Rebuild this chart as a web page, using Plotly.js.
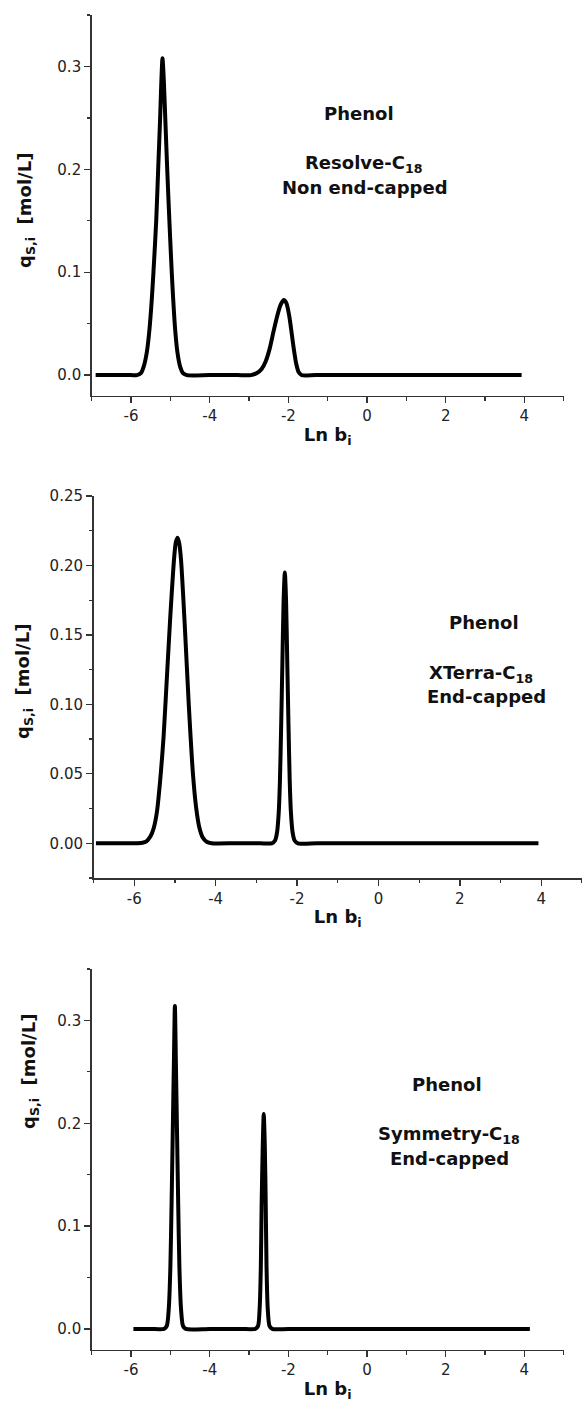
<!DOCTYPE html>
<html>
<head>
<meta charset="utf-8">
<script src="https://cdn.plot.ly/plotly-3.0.1.min.js"></script>
<style>html,body{margin:0;padding:0;background:#fff;}#chart{width:582px;height:1403px;}</style>
</head>
<body>
<div id="chart"></div>
<script>
// Panel 1: Resolve-C18, non end-capped
var resolveX = [-6.90, -6.0, -5.85, -5.75, -5.68, -5.60, -5.53, -5.47, -5.43, -5.36, -5.31, -5.26, -5.23, -5.20, -5.165, -5.13, -5.08, -5.025, -4.965, -4.93, -4.88, -4.82, -4.75, -4.68, -4.58, -4.0, -3.3, -2.95, -2.80, -2.68, -2.58, -2.48, -2.38, -2.28, -2.20, -2.12, -2.05, -1.98, -1.92, -1.86, -1.80, -1.74, -1.66, -1.3, 0, 2, 3.93];
var resolveY = [0, 0, 0, 0.002, 0.008, 0.022, 0.045, 0.075, 0.10, 0.15, 0.20, 0.25, 0.285, 0.308, 0.285, 0.25, 0.20, 0.15, 0.10, 0.075, 0.045, 0.022, 0.008, 0.002, 0, 0, 0, 0, 0.002, 0.006, 0.013, 0.025, 0.042, 0.058, 0.068, 0.073, 0.070, 0.058, 0.042, 0.025, 0.011, 0.003, 0, 0, 0, 0, 0];

// Panel 2: XTerra-C18, end-capped
var xterraX = [-6.94, -6.3, -6.0, -5.80, -5.70, -5.60, -5.52, -5.44, -5.345, -5.28, -5.22, -5.12, -5.015, -4.975, -4.935, -4.895, -4.85, -4.76, -4.66, -4.557, -4.48, -4.40, -4.32, -4.22, -4.10, -3.5, -2.9, -2.62, -2.54, -2.49, -2.45, -2.42, -2.39, -2.36, -2.33, -2.30, -2.27, -2.24, -2.21, -2.18, -2.15, -2.11, -2.06, -1.98, -1.5, 0, 2, 3.93];
var xterraY = [0, 0, 0, 0.0004, 0.0014, 0.005, 0.011, 0.023, 0.051, 0.076, 0.107, 0.16, 0.207, 0.217, 0.220, 0.216, 0.204, 0.158, 0.10, 0.05, 0.026, 0.0114, 0.0044, 0.0011, 0, 0, 0, 0, 0.002, 0.008, 0.022, 0.045, 0.085, 0.13, 0.175, 0.195, 0.175, 0.13, 0.085, 0.045, 0.022, 0.008, 0.002, 0, 0, 0, 0, 0];

// Panel 3: Symmetry-C18, end-capped
var symmetryX = [-5.94, -5.5, -5.16, -5.09, -5.04, -5.00, -4.97, -4.94, -4.91, -4.885, -4.86, -4.83, -4.80, -4.77, -4.73, -4.68, -4.61, -4.0, -3.2, -2.84, -2.77, -2.73, -2.70, -2.68, -2.65, -2.626, -2.60, -2.575, -2.555, -2.525, -2.48, -2.41, -2.0, 0, 2, 4.14];
var symmetryY = [0, 0, 0, 0.003, 0.02, 0.06, 0.12, 0.19, 0.26, 0.314, 0.26, 0.19, 0.12, 0.06, 0.02, 0.003, 0, 0, 0, 0, 0.003, 0.02, 0.06, 0.12, 0.18, 0.209, 0.18, 0.12, 0.06, 0.02, 0.003, 0, 0, 0, 0, 0];

var xTickVals = [-6, -4, -2, 0, 2, 4];
var xTickText = ["-6", "-4", "-2", "0", "2", "4"];
var panelLabels = [
  ["Phenol", "Resolve-C<sub>18</sub>", "Non end-capped"],
  ["Phenol", "XTerra-C<sub>18</sub>", "End-capped"],
  ["Phenol", "Symmetry-C<sub>18</sub>", "End-capped"]
];
var xTitle = "Ln b<sub>i</sub>";
var yTitle = "q<sub>S,i</sub>\u00a0\u00a0[mol/L]";

var W = 582, H = 1403;
function px(x) { return x / W; }
function py(y) { return 1 - y / H; }

var FONT = "DejaVu Sans, Liberation Sans, Arial, sans-serif";
var lineStyle = {color: "#000", width: 4, shape: "spline", smoothing: 0.7};

var traces = [
  {x: resolveX, y: resolveY, xaxis: "x", yaxis: "y", mode: "lines", line: lineStyle, hoverinfo: "skip"},
  {x: xterraX, y: xterraY, xaxis: "x2", yaxis: "y2", mode: "lines", line: lineStyle, hoverinfo: "skip"},
  {x: symmetryX, y: symmetryY, xaxis: "x3", yaxis: "y3", mode: "lines", line: lineStyle, hoverinfo: "skip"}
];

function xAxis(domain, anchor) {
  return {
    domain: domain, anchor: anchor, range: [-7, 5],
    tickmode: "array", tickvals: xTickVals, ticktext: xTickText,
    ticks: "outside", ticklen: 6, tickwidth: 1.3, tickcolor: "#333",
    minor: {dtick: 1, tick0: 0, ticks: "outside", ticklen: 3.5, tickwidth: 1.3, tickcolor: "#333", showgrid: false},
    showline: true, linecolor: "#333", linewidth: 1.5,
    showgrid: false, zeroline: false,
    tickfont: {family: FONT, size: 15, color: "#222"},
    title: {text: xTitle, font: {family: FONT, size: 18, color: "#111", weight: "bold"}, standoff: 4}
  };
}
function yAxis(domain, anchor, range, dtick, minorDtick, fmt) {
  return {
    domain: domain, anchor: anchor, range: range,
    tick0: 0, dtick: dtick, tickformat: fmt,
    ticks: "outside", ticklen: 6, tickwidth: 1.3, tickcolor: "#333",
    minor: {dtick: minorDtick, tick0: 0, ticks: "outside", ticklen: 3.5, tickwidth: 1.3, tickcolor: "#333", showgrid: false},
    showline: true, linecolor: "#333", linewidth: 1.5,
    showgrid: false, zeroline: false,
    tickfont: {family: FONT, size: 15, color: "#222"}
  };
}

var annFont = {family: FONT, size: 18, color: "#111", weight: "bold"};
function ann(text, x, y, extra) {
  var a = {text: text, xref: "paper", yref: "paper", x: px(x), y: py(y), xanchor: "center", yanchor: "middle", showarrow: false, font: annFont};
  if (extra) for (var k in extra) a[k] = extra[k];
  return a;
}

var annotations = [
  ann(panelLabels[0][0], 359, 114),
  ann(panelLabels[0][1], 363, 164),
  ann(panelLabels[0][2], 365, 188),
  ann(panelLabels[1][0], 484, 622),
  ann(panelLabels[1][1], 481, 674),
  ann(panelLabels[1][2], 486, 697),
  ann(panelLabels[2][0], 447, 1084),
  ann(panelLabels[2][1], 449, 1135),
  ann(panelLabels[2][2], 449, 1158),
  ann(yTitle, 26, 211, {textangle: -90}),
  ann(yTitle, 24, 682, {textangle: -90}),
  ann(yTitle, 30, 1072, {textangle: -90})
];

var layout = {
  width: W, height: H,
  margin: {l: 0, r: 0, t: 0, b: 0},
  paper_bgcolor: "#fff", plot_bgcolor: "#fff",
  showlegend: false,
  font: {family: FONT},
  xaxis: xAxis([px(91.7), px(563.7)], "y"),
  yaxis: yAxis([py(395.7), py(15)], "x", [-0.02, 0.35], 0.1, 0.05, ".1f"),
  xaxis2: xAxis([px(93.5), 1], "y2"),
  yaxis2: yAxis([py(878), py(496)], "x2", [-0.025, 0.25], 0.05, 0.025, ".2f"),
  xaxis3: xAxis([px(91.7), px(563.7)], "y3"),
  yaxis3: yAxis([py(1349.5), py(969)], "x3", [-0.02, 0.35], 0.1, 0.05, ".1f"),
  annotations: annotations
};

Plotly.newPlot("chart", traces, layout, {staticPlot: true, displayModeBar: false});
</script>
</body>
</html>
